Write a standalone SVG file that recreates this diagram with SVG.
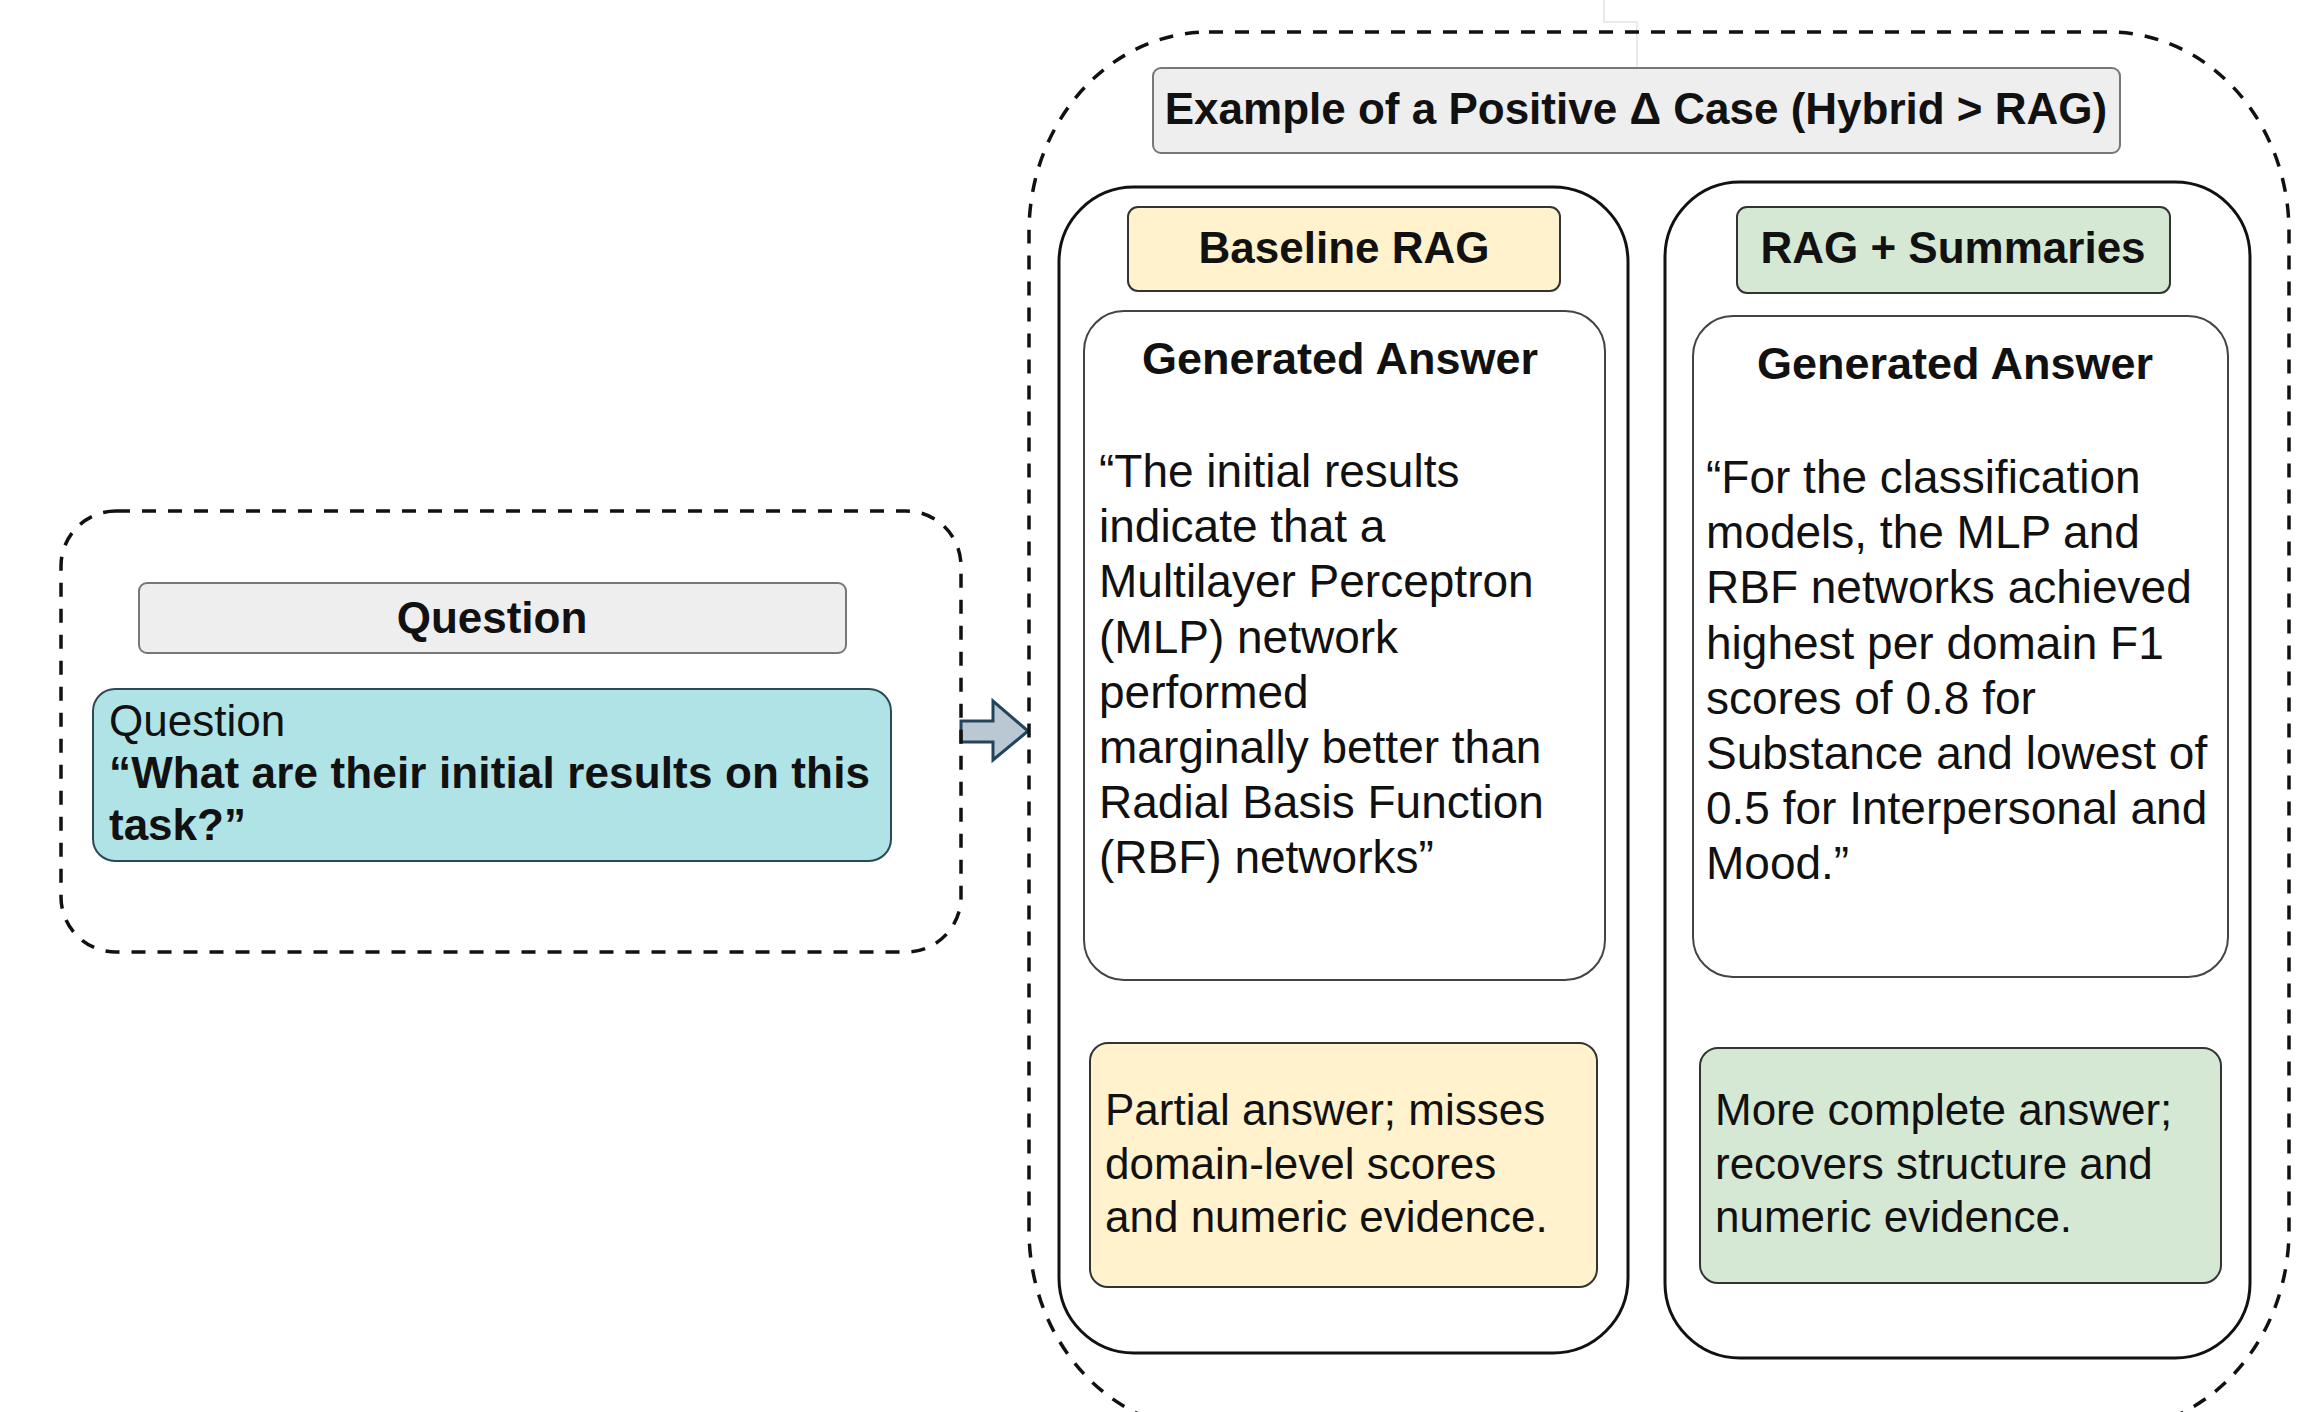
<svg xmlns="http://www.w3.org/2000/svg" width="2320" height="1412" viewBox="0 0 2320 1412">
<style>
text{font-family:"Liberation Sans",Arial,sans-serif;fill:#111}
.b{font-weight:bold}
.dash{fill:none;stroke:#111;stroke-width:3.5;stroke-dasharray:14 12}
.col{fill:#fff;stroke:#111;stroke-width:3}
.hdr{fill:#eeeeee;stroke:#777;stroke-width:2}
.ans{fill:#fff;stroke:#444;stroke-width:2}
.t44{font-size:44px}
.t45{font-size:45px}
.t46{font-size:46px}
.mid{text-anchor:middle}
</style>
<rect width="2320" height="1412" fill="#fff"/>
<g id="connectors">
<polyline points="1604,0 1604,22 1637,22 1637,68" fill="none" stroke="#e4e4e4" stroke-width="1.5"/>
<polygon id="arrow" points="961,721 993,721 993,701 1028,731 993,760 993,742 961,742" fill="#bac8d3" stroke="#23445d" stroke-width="3"/>
</g>
<g id="question-group">
<rect class="dash" x="61" y="511" width="900" height="441" rx="55" ry="55"/>
<g id="question-header">
<rect class="hdr" x="139" y="583" width="707" height="70" rx="8"/>
<text class="b t44 mid" x="492" y="633">Question</text>
</g>
<g id="question-box">
<rect x="93" y="689" width="798" height="172" rx="22" fill="#b0e3e6" stroke="#2c4a55" stroke-width="2"/>
<text class="t44" x="109" y="736">Question</text>
<text class="b t44" x="109" y="788" textLength="761">“What are their initial results on this</text>
<text class="b t44" x="109" y="840">task?”</text>
</g>
</g>
<g id="example-group">
<rect class="dash" x="1029" y="32" width="1260" height="1398" rx="180" ry="200"/>
<g id="title">
<rect class="hdr" x="1153" y="68" width="967" height="85" rx="8"/>
<text class="b mid" style="font-size:44px" x="1636" y="124">Example of a Positive Δ Case (Hybrid &gt; RAG)</text>
</g>
</g>
<g id="baseline-column">
<rect class="col" x="1059" y="187" width="569" height="1166" rx="75" ry="75"/>
<g id="baseline-header">
<rect x="1128" y="207" width="432" height="84" rx="10" fill="#fff2cc" stroke="#333" stroke-width="2"/>
<text class="b t44 mid" x="1344" y="263">Baseline RAG</text>
</g>
<g id="baseline-answer">
<rect class="ans" x="1084" y="311" width="521" height="669" rx="40"/>
<text class="b t45 mid" x="1340" y="374">Generated Answer</text>
<text class="t46" x="1099">
<tspan x="1099" y="487">“The initial results</tspan>
<tspan x="1099" y="542">indicate that a</tspan>
<tspan x="1099" y="597">Multilayer Perceptron</tspan>
<tspan x="1099" y="653">(MLP) network</tspan>
<tspan x="1099" y="708">performed</tspan>
<tspan x="1099" y="763">marginally better than</tspan>
<tspan x="1099" y="818">Radial Basis Function</tspan>
<tspan x="1099" y="873">(RBF) networks”</tspan>
</text>
</g>
<g id="baseline-verdict">
<rect x="1090" y="1043" width="507" height="244" rx="18" fill="#fff2cc" stroke="#333" stroke-width="2"/>
<text class="t44">
<tspan x="1105" y="1125">Partial answer; misses</tspan>
<tspan x="1105" y="1179">domain-level scores</tspan>
<tspan x="1105" y="1232">and numeric evidence.</tspan>
</text>
</g>
</g>
<g id="summaries-column">
<rect class="col" x="1665" y="182" width="585" height="1176" rx="75" ry="75"/>
<g id="summaries-header">
<rect x="1737" y="207" width="433" height="86" rx="10" fill="#d5e8d4" stroke="#333" stroke-width="2"/>
<text class="b t44 mid" x="1953" y="263">RAG + Summaries</text>
</g>
<g id="summaries-answer">
<rect class="ans" x="1693" y="316" width="535" height="661" rx="40"/>
<text class="b t45 mid" x="1955" y="379">Generated Answer</text>
<text class="t46">
<tspan x="1706" y="493">“For the classification</tspan>
<tspan x="1706" y="548">models, the MLP and</tspan>
<tspan x="1706" y="603">RBF networks achieved</tspan>
<tspan x="1706" y="659">highest per domain F1</tspan>
<tspan x="1706" y="714">scores of 0.8 for</tspan>
<tspan x="1706" y="769">Substance and lowest of</tspan>
<tspan x="1706" y="824">0.5 for Interpersonal and</tspan>
<tspan x="1706" y="879">Mood.”</tspan>
</text>
</g>
<g id="summaries-verdict">
<rect x="1700" y="1048" width="521" height="235" rx="18" fill="#d5e8d4" stroke="#333" stroke-width="2"/>
<text class="t44">
<tspan x="1715" y="1125">More complete answer;</tspan>
<tspan x="1715" y="1179">recovers structure and</tspan>
<tspan x="1715" y="1232">numeric evidence.</tspan>
</text>
</g>
</g>
</svg>
